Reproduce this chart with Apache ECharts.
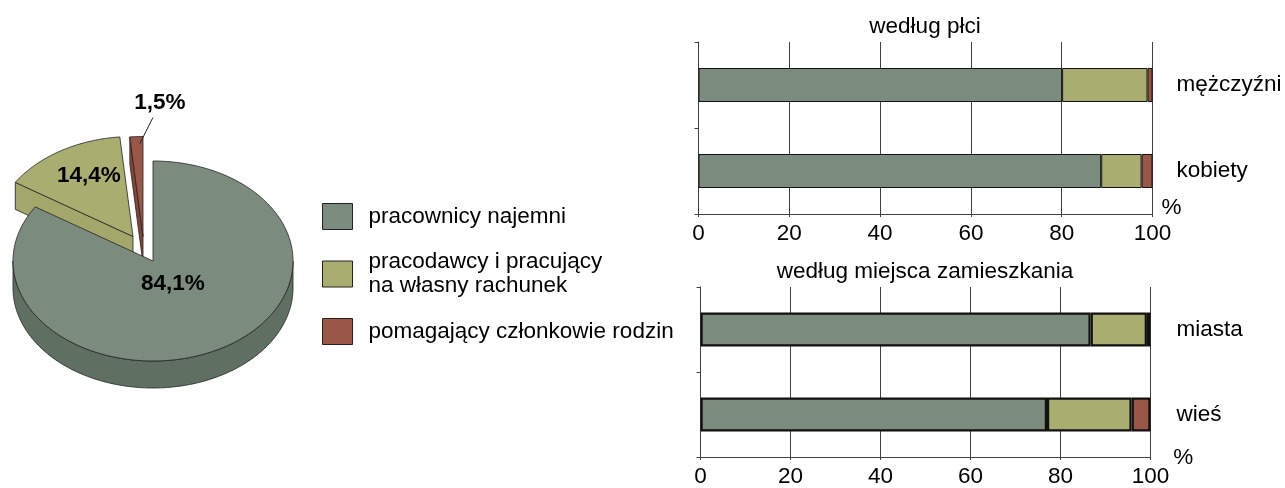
<!DOCTYPE html>
<html>
<head>
<meta charset="utf-8">
<script src="https://cdn.jsdelivr.net/npm/echarts@6/dist/echarts.min.js"></script>
<style>
html,body{margin:0;padding:0;background:#fff;}
#chart{width:1285px;height:488px;}
</style>
</head>
<body>
<div id="chart"></div>
<script>
// ---------- DATA ----------
const pieNames = ['pracownicy najemni', 'pracodawcy i pracujący\nna własny rachunek', 'pomagający członkowie rodzin'];
const pieValues = [84.1, 14.4, 1.5];
const pieLabels = ['84,1%', '14,4%', '1,5%'];

const sexTitle = 'według płci';
const sexCategories = ['mężczyźni', 'kobiety'];
const sexEmployees = [80.1, 88.7];
const sexEmployers = [18.8, 8.9];
const sexFamily = [1.1, 2.4];

const placeTitle = 'według miejsca zamieszkania';
const placeCategories = ['miasta', 'wieś'];
const placeEmployees = [86.7, 77.0];
const placeEmployers = [12.5, 18.8];
const placeFamily = [0.8, 4.2];

const xMin = 0, xMax = 100, xStep = 20;
const unitLabel = '%';

// ---------- STYLE ----------
const FONT = 'Liberation Sans, Arial, sans-serif';
const FS = 22.5;
const COLORS = ['#7b8b7e', '#a9ae70', '#9a5646'];
const WALLS = ['#5f7063', '#a3a86a', '#854638'];
const AXIS = '#404040';
const PIE = { cx: 153, cy: 261, a: 140, b: 100, depth: 27 };
const pieOffsets = [[0, 0], [-20, -24.5], [-10, -24.5]];

const total = pieValues.reduce((s, v) => s + v, 0);
const rad = d => d * Math.PI / 180;

function renderPie(params, api) {
  const i = params.dataIndex;
  let start = 0;
  for (let j = 0; j < i; j++) start += pieValues[j];
  const t1 = start / total * 360;
  const t2 = (start + api.value(0)) / total * 360;
  const cx = PIE.cx + pieOffsets[i][0];
  const cy = PIE.cy + pieOffsets[i][1];
  const d = PIE.depth;
  const P = (t, dz) => [cx + PIE.a * Math.sin(rad(t)), cy - PIE.b * Math.cos(rad(t)) + (dz || 0)];
  const arc = (s, e, dz) => {
    const pts = [];
    const n = Math.max(2, Math.ceil(Math.abs(e - s)));
    for (let k = 0; k <= n; k++) pts.push(P(s + (e - s) * k / n, dz));
    return pts;
  };
  const baseZ = i === 0 ? 10 : 1;
  const stroke = { stroke: '#222', lineWidth: 0.8, lineJoin: 'round' };
  const children = [];
  if (Math.sin(rad(t1)) < -1e-6) {
    children.push({ type: 'polygon', z2: baseZ, shape: { points: [[cx, cy], P(t1), P(t1, d), [cx, cy + d]] },
      style: Object.assign({ fill: WALLS[i] }, stroke) });
  }
  if (Math.sin(rad(t2)) > 1e-6) {
    children.push({ type: 'polygon', z2: baseZ, shape: { points: [[cx, cy], P(t2), P(t2, d), [cx, cy + d]] },
      style: Object.assign({ fill: WALLS[i] }, stroke) });
  }
  const s = Math.max(t1, 90), e = Math.min(t2, 270);
  if (e > s) {
    children.push({ type: 'polygon', z2: baseZ, shape: { points: arc(s, e, 0).concat(arc(e, s, d)) },
      style: Object.assign({ fill: WALLS[i] }, stroke) });
  }
  children.push({ type: 'polygon', z2: baseZ + 1, shape: { points: [[cx, cy]].concat(arc(t1, t2, 0)) },
    style: Object.assign({ fill: COLORS[i] }, stroke) });

  const tm = (t1 + t2) / 2;
  const sx = Math.sin(rad(tm)), sy = -Math.cos(rad(tm));
  const font = 'bold ' + FS + 'px ' + FONT;
  if (i === 0) {
    children.push({ type: 'text', z2: 30, style: { text: pieLabels[i], x: cx + 0.28 * PIE.a * sx + 1, y: cy + 0.28 * PIE.b * sy - 2,
      align: 'center', verticalAlign: 'middle', font: font, fill: '#000' } });
  } else if (i === 1) {
    children.push({ type: 'text', z2: 30, style: { text: pieLabels[i], x: cx + 0.62 * PIE.a * sx + 1, y: cy + 0.72 * PIE.b * sy + 1,
      align: 'center', verticalAlign: 'middle', font: font, fill: '#000' } });
  } else {
    const lx = cx + 0.93 * PIE.a * sx + 3, ly = cy + 0.93 * PIE.b * sy;
    children.push({ type: 'line', z2: 30, shape: { x1: lx, y1: ly, x2: lx + 13, y2: ly - 26 },
      style: { stroke: '#222', lineWidth: 1 } });
    children.push({ type: 'text', z2: 30, style: { text: pieLabels[i], x: lx + 20, y: ly - 41,
      align: 'center', verticalAlign: 'middle', font: font, fill: '#000' } });
  }
  return { type: 'group', children: children };
}

const grids = [
  { left: 698.5, right: 132.5, top: 42, height: 172 },
  { left: 700.5, right: 134.5, top: 287, height: 172 }
];

function xAxisFor(gi, nameShift) {
  return {
    gridIndex: gi, type: 'value', min: xMin, max: xMax, interval: xStep,
    name: unitLabel, nameLocation: 'end', nameGap: 9,
    nameTextStyle: { fontSize: FS, color: '#000', fontFamily: FONT, verticalAlign: 'bottom', align: 'left', padding: [0, 0, nameShift, 0] },
    axisLine: { show: true, lineStyle: { color: AXIS, width: 1 } },
    axisTick: { show: true, length: 3, lineStyle: { color: AXIS } },
    axisLabel: { fontSize: FS, color: '#000', fontFamily: FONT, margin: 8 },
    splitLine: { show: true, lineStyle: { color: AXIS, width: 1 } }
  };
}
function yAxesFor(gi, cats, labelMargin) {
  return [
    { gridIndex: gi, type: 'category', data: cats, inverse: true, position: 'left',
      axisLine: { show: true, lineStyle: { color: AXIS, width: 1 } },
      axisTick: { show: true, length: 4, lineStyle: { color: AXIS } },
      axisLabel: { show: false }, splitLine: { show: false } },
    { gridIndex: gi, type: 'category', data: cats, inverse: true, position: 'right',
      axisLine: { show: false }, axisTick: { show: false }, splitLine: { show: false },
      axisLabel: { show: true, fontSize: FS, color: '#000', fontFamily: FONT, margin: labelMargin } }
  ];
}
function barSeries(gi, yi, values, k, border) {
  return {
    type: 'bar', name: pieNames[k], xAxisIndex: gi, yAxisIndex: yi, stack: 'g' + gi,
    data: values, barWidth: 34, silent: true,
    itemStyle: { color: COLORS[k], borderColor: '#111', borderWidth: border }
  };
}

const chart = echarts.init(document.getElementById('chart'), null, { renderer: 'canvas' });
chart.setOption({
  animation: false,
  textStyle: { fontFamily: FONT },
  title: [
    { text: sexTitle, left: 925, top: 15, textAlign: 'center', padding: 0,
      textStyle: { fontSize: FS, fontWeight: 'normal', color: '#000', fontFamily: FONT } },
    { text: placeTitle, left: 925, top: 260, textAlign: 'center', padding: 0,
      textStyle: { fontSize: FS, fontWeight: 'normal', color: '#000', fontFamily: FONT } }
  ],
  legend: {
    orient: 'vertical', left: 322, top: 203, itemWidth: 30, itemHeight: 26, itemGap: 20,
    selectedMode: false, icon: 'rect', padding: 0,
    data: pieNames,
    itemStyle: { borderColor: '#222', borderWidth: 1 },
    textStyle: { fontSize: FS, lineHeight: 24, color: '#000', fontFamily: FONT, padding: [0, 0, 0, 11] }
  },
  grid: grids,
  xAxis: [xAxisFor(0, -5), xAxisFor(1, -12)],
  yAxis: yAxesFor(0, sexCategories, 24).concat(yAxesFor(1, placeCategories, 26)),
  series: [
    barSeries(0, 0, sexEmployees, 0, 1),
    barSeries(0, 0, sexEmployers, 1, 1),
    barSeries(0, 0, sexFamily, 2, 1),
    barSeries(1, 2, placeEmployees, 0, 2.2),
    barSeries(1, 2, placeEmployers, 1, 2.2),
    barSeries(1, 2, placeFamily, 2, 2.2),
    {
      type: 'custom', coordinateSystem: 'none', silent: true, z: 5,
      data: pieValues.map((v, i) => ({ name: pieNames[i], value: v })),
      renderItem: renderPie
    }
  ]
});
</script>
</body>
</html>
